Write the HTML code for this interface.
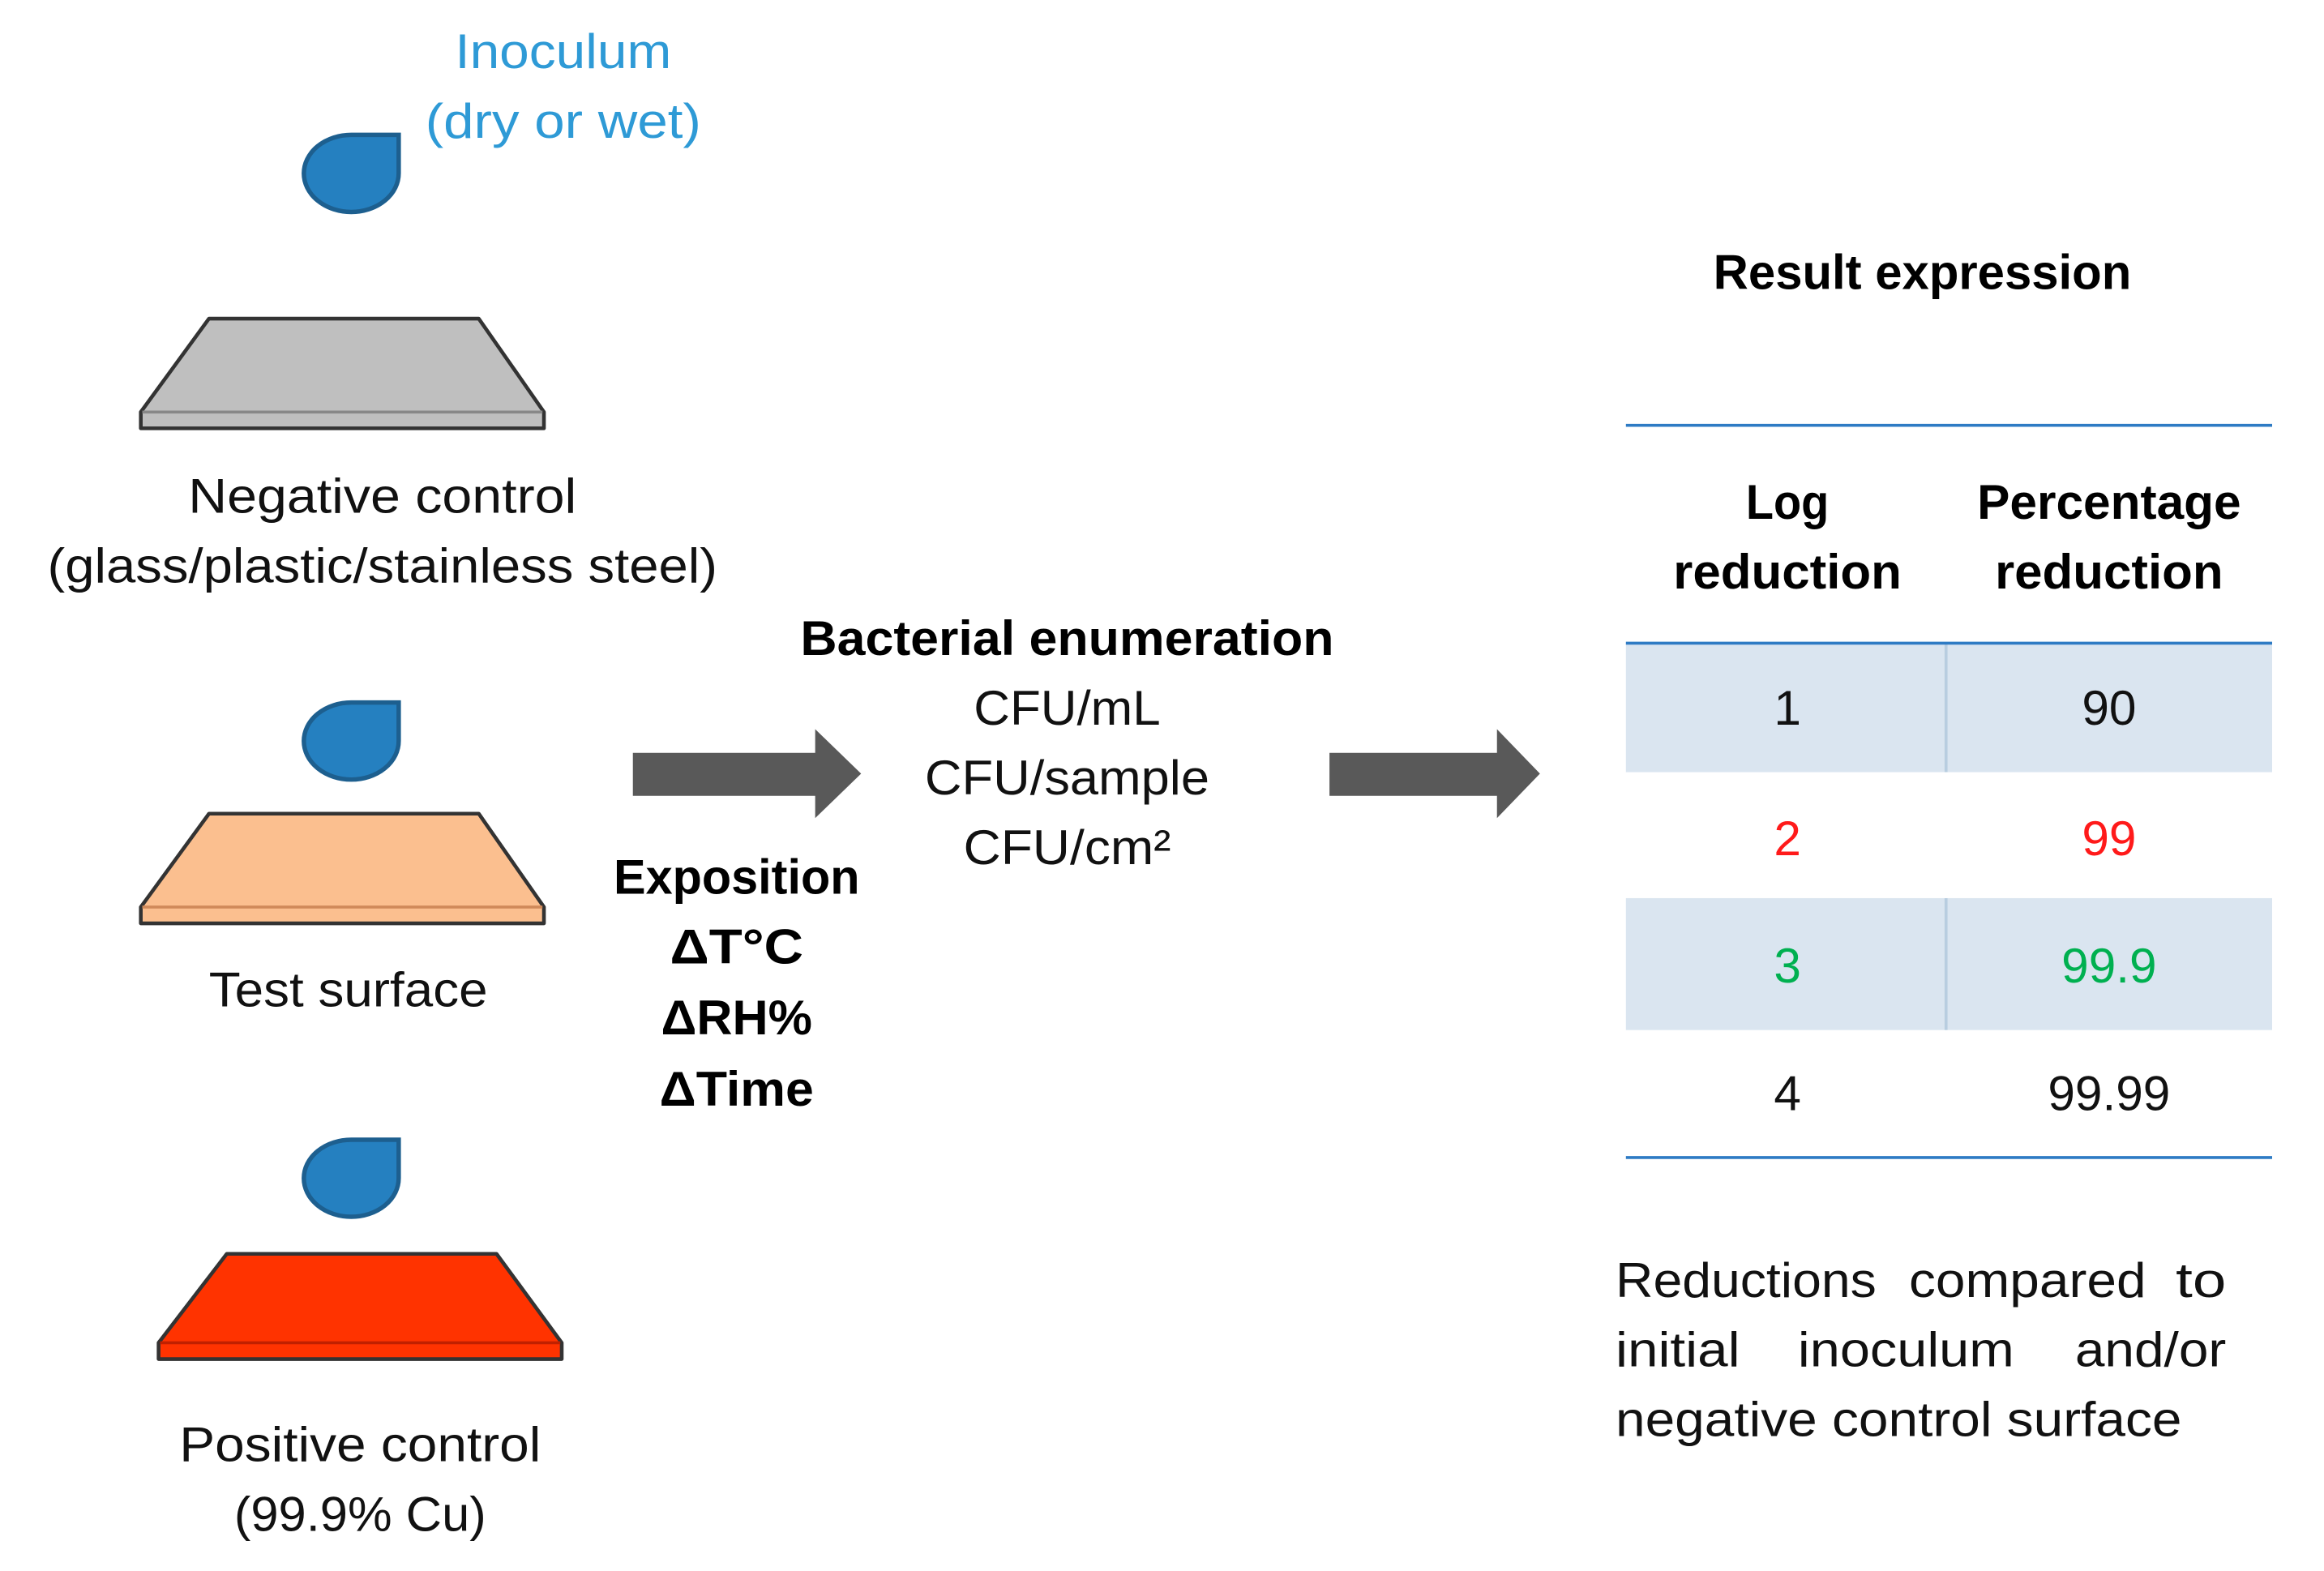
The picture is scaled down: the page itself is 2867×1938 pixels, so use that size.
<!DOCTYPE html>
<html><head><style>
html,body{margin:0;padding:0;background:#fff;}
svg{display:block;}
text{font-family:"Liberation Sans",sans-serif;}
</style></head><body>
<svg width="2867" height="1938" viewBox="0 0 1568 1060" preserveAspectRatio="none" xmlns="http://www.w3.org/2000/svg">
<text x="380" y="46" font-size="33" fill="#2e9ad6" text-anchor="middle" textLength="146" lengthAdjust="spacingAndGlyphs">Inoculum</text>
<text x="380" y="93" font-size="33" fill="#2e9ad6" text-anchor="middle" textLength="186" lengthAdjust="spacingAndGlyphs">(dry or wet)</text>
<g fill="#2580c0" stroke="#1d5f8f" stroke-width="3">
<path d="M269,91 L269,117 A32,26 0 1 1 237,91 Z"/>
<path d="M269,474 L269,500 A32,26 0 1 1 237,474 Z"/>
<path d="M269,769 L269,795 A32,26 0 1 1 237,769 Z"/>
</g>
<path d="M141,215 L323,215 L367,278 L367,289 L95,289 L95,278 Z" fill="#bfbfbf" stroke="#333" stroke-width="2.5" stroke-linejoin="round"/>
<line x1="96" y1="278" x2="366" y2="278" stroke="#888" stroke-width="2"/>
<text x="258" y="346" font-size="33" fill="#111" text-anchor="middle" textLength="262" lengthAdjust="spacingAndGlyphs">Negative control</text>
<text x="258" y="393" font-size="33" fill="#111" text-anchor="middle" textLength="452" lengthAdjust="spacingAndGlyphs">(glass/plastic/stainless steel)</text>
<path d="M141,549 L323,549 L367,612 L367,623 L95,623 L95,612 Z" fill="#fbbf8f" stroke="#333" stroke-width="2.5" stroke-linejoin="round"/>
<line x1="96" y1="612" x2="366" y2="612" stroke="#d08a5a" stroke-width="2"/>
<text x="235" y="679" font-size="33" fill="#111" text-anchor="middle" textLength="188" lengthAdjust="spacingAndGlyphs">Test surface</text>
<path d="M153,846 L335,846 L379,906 L379,917 L107,917 L107,906 Z" fill="#ff3300" stroke="#333" stroke-width="2.5" stroke-linejoin="round"/>
<line x1="108" y1="906" x2="378" y2="906" stroke="#c02000" stroke-width="2"/>
<text x="243" y="986" font-size="33" fill="#111" text-anchor="middle" textLength="244" lengthAdjust="spacingAndGlyphs">Positive control</text>
<text x="243" y="1033" font-size="33" fill="#111" text-anchor="middle" textLength="170" lengthAdjust="spacingAndGlyphs">(99.9% Cu)</text>
<path d="M427,508 L550,508 L550,492 L581,522 L550,552 L550,537 L427,537 Z" fill="#595959"/>
<path d="M897,508 L1010,508 L1010,492 L1039,522 L1010,552 L1010,537 L897,537 Z" fill="#595959"/>
<text x="720" y="442" font-size="33" font-weight="bold" fill="#000" text-anchor="middle" textLength="360" lengthAdjust="spacingAndGlyphs">Bacterial enumeration</text>
<text x="720" y="489" font-size="33" fill="#111" text-anchor="middle" textLength="126" lengthAdjust="spacingAndGlyphs">CFU/mL</text>
<text x="720" y="536" font-size="33" fill="#111" text-anchor="middle" textLength="192" lengthAdjust="spacingAndGlyphs">CFU/sample</text>
<text x="720" y="583" font-size="33" fill="#111" text-anchor="middle" textLength="140" lengthAdjust="spacingAndGlyphs">CFU/cm²</text>
<text x="497" y="603" font-size="33" font-weight="bold" fill="#000" text-anchor="middle" textLength="166" lengthAdjust="spacingAndGlyphs">Exposition</text>
<text x="497" y="650" font-size="33" font-weight="bold" fill="#000" text-anchor="middle" textLength="90" lengthAdjust="spacingAndGlyphs">ΔT°C</text>
<text x="497" y="698" font-size="33" font-weight="bold" fill="#000" text-anchor="middle" textLength="102" lengthAdjust="spacingAndGlyphs">ΔRH%</text>
<text x="497" y="746" font-size="33" font-weight="bold" fill="#000" text-anchor="middle" textLength="104" lengthAdjust="spacingAndGlyphs">ΔTime</text>
<text x="1297" y="195" font-size="33" font-weight="bold" fill="#000" text-anchor="middle" textLength="282" lengthAdjust="spacingAndGlyphs">Result expression</text>
<rect x="1097" y="434" width="436" height="87" fill="#dae5f0"/>
<rect x="1097" y="606" width="436" height="89" fill="#dae5f0"/>
<line x1="1313" y1="434" x2="1313" y2="521" stroke="#b8cde0" stroke-width="2"/>
<line x1="1313" y1="606" x2="1313" y2="695" stroke="#b8cde0" stroke-width="2"/>
<g stroke="#2e7bc4" stroke-width="2">
<line x1="1097" y1="287" x2="1533" y2="287"/>
<line x1="1097" y1="434" x2="1533" y2="434"/>
<line x1="1097" y1="781" x2="1533" y2="781"/>
</g>
<g font-size="33" font-weight="bold" fill="#000" text-anchor="middle">
<text x="1206" y="350" textLength="56" lengthAdjust="spacingAndGlyphs">Log</text>
<text x="1206" y="397" textLength="154" lengthAdjust="spacingAndGlyphs">reduction</text>
<text x="1423" y="350" textLength="178" lengthAdjust="spacingAndGlyphs">Percentage</text>
<text x="1423" y="397" textLength="154" lengthAdjust="spacingAndGlyphs">reduction</text>
</g>
<g font-size="33" text-anchor="middle">
<text x="1206" y="489" fill="#111">1</text><text x="1423" y="489" fill="#111">90</text>
<text x="1206" y="577" fill="#ff1a1a">2</text><text x="1423" y="577" fill="#ff1a1a">99</text>
<text x="1206" y="663" fill="#00b050">3</text><text x="1423" y="663" fill="#00b050">99.9</text>
<text x="1206" y="749" fill="#111">4</text><text x="1423" y="749" fill="#111">99.99</text>
</g>
<g font-size="33" fill="#111">
<text x="1090" y="875" textLength="176" lengthAdjust="spacingAndGlyphs">Reductions</text>
<text x="1368" y="875" text-anchor="middle" textLength="160" lengthAdjust="spacingAndGlyphs">compared</text>
<text x="1502" y="875" text-anchor="end" textLength="34" lengthAdjust="spacingAndGlyphs">to</text>
<text x="1090" y="922" textLength="84" lengthAdjust="spacingAndGlyphs">initial</text>
<text x="1286" y="922" text-anchor="middle" textLength="146" lengthAdjust="spacingAndGlyphs">inoculum</text>
<text x="1502" y="922" text-anchor="end" textLength="102" lengthAdjust="spacingAndGlyphs">and/or</text>
<text x="1090" y="969" textLength="382" lengthAdjust="spacingAndGlyphs">negative control surface</text>
</g>
</svg>
</body></html>
